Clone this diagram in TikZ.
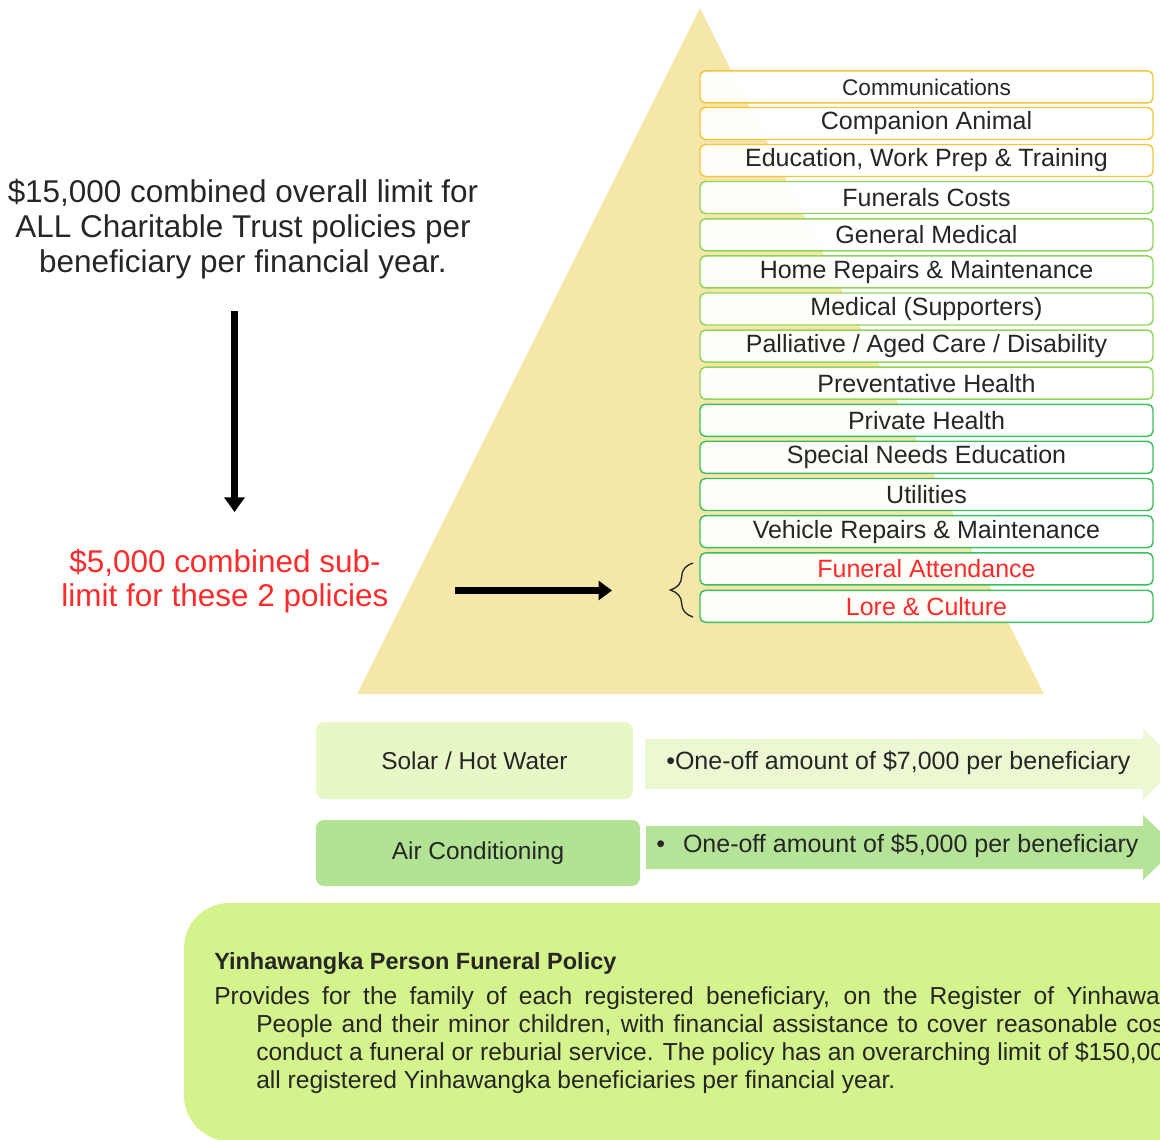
\documentclass[tikz,border=0pt]{standalone}
\usepackage{fontspec}
\setmainfont{Liberation Sans}
\usetikzlibrary{arrows.meta,decorations.pathreplacing}
\definecolor{tri}{HTML}{F5E6A9}
\definecolor{gold}{HTML}{F2C63C}
\definecolor{lgreen}{HTML}{8ED65A}
\definecolor{dgreen}{HTML}{3DBE5C}
\definecolor{txt}{HTML}{262626}
\definecolor{redt}{HTML}{FF2A2A}
\definecolor{solarfill}{HTML}{E8F7C6}
\definecolor{solararrow}{HTML}{EBF8D2}
\definecolor{airfill}{HTML}{B2E293}
\definecolor{airarrow}{HTML}{B5E498}
\definecolor{policy}{HTML}{D4F38C}
\tikzset{
  item/.style={draw=#1, fill=white, fill opacity=0.92, text opacity=1, draw opacity=1,
    rounded corners=4pt, minimum width=339.75pt, minimum height=24pt, inner sep=0pt,
    font=\fontsize{18.75}{20}\selectfont, text=txt, line width=1.1pt},
  lefttext/.style={align=center, text=txt, inner sep=0pt, font=\fontsize{23.6}{26.25}\selectfont},
  redtext/.style={align=center, text=redt, inner sep=0pt, font=\fontsize{23.6}{25.5}\selectfont},
  greenbox/.style={rounded corners=6pt, inner sep=0pt, text=txt, font=\fontsize{18.3}{20}\selectfont},
  bullettext/.style={anchor=west, inner sep=0pt, text=txt, font=\fontsize{18.75}{20}\selectfont},
  bodytext/.style={anchor=base west, inner sep=0pt, text=txt, font=\fontsize{18.45}{21}\selectfont}
}
\begin{document}
\begin{tikzpicture}[x=0.75pt,y=-0.75pt]
\useasboundingbox (0,0) rectangle (1160,1139);
\clip (0,0) rectangle (1160,1139);
% pyramid
\fill[tri] (700,8) -- (1044,694) -- (357,694) -- cycle;
% list boxes
\node[item=gold, font=\fontsize{17}{19}\selectfont] (b1) at (926.5,86.9) {Communications};
\node[item=gold] (b2) at (926.5,123.5) {Companion Animal};
\node[item=gold] (b3) at (926.5,160.5) {Education, Work Prep \& Training};
\node[item=lgreen] (b4) at (926.5,197.5) {Funerals Costs};
\node[item=lgreen] (b5) at (926.5,234.8) {General Medical};
\node[item=lgreen] (b6) at (926.5,271.9) {Home Repairs \& Maintenance};
\node[item=lgreen] (b7) at (926.5,309.0) {Medical (Supporters)};
\node[item=lgreen] (b8) at (926.5,346.1) {Palliative / Aged Care / Disability};
\node[item=lgreen] (b9) at (926.5,383.2) {Preventative Health};
\node[item=dgreen] (b10) at (926.5,420.3) {Private Health};
\node[item=dgreen] (b11) at (926.5,457.4) {Special Needs Education};
\node[item=dgreen] (b12) at (926.5,494.5) {Utilities};
\node[item=dgreen] (b13) at (926.5,531.6) {Vehicle Repairs \& Maintenance};
\node[item=dgreen, text=redt] (b14) at (926.5,568.9) {Funeral Attendance};
\node[item=dgreen, text=redt] (b15) at (926.5,606.3) {Lore \& Culture};
% brace
\coordinate (brbot) at (693,617);
\coordinate (brtop) at (693,563);
\draw[decorate, decoration={brace, amplitude=17pt, aspect=0.5}, line width=1pt, txt] (brbot) -- (brtop);
% left texts
\node[lefttext] (overall) at (243,229.5) {\$15,000 combined overall limit for\\ALL Charitable Trust policies per\\beneficiary per financial year.};
\node[redtext] (sub) at (225,581.5) {\$5,000 combined sub-\\limit for these 2 policies};
% black arrows
\coordinate (vstart) at (234.5,311);
\coordinate (vend) at (234.5,512);
\draw[line width=5.6pt, -{Triangle[length=11pt,width=15pt]}] (vstart) -- (vend);
\coordinate (hstart) at (455,590.5);
\coordinate (hend) at (612,590.5);
\draw[line width=4.6pt, -{Triangle[length=10pt,width=14pt]}] (hstart) -- (hend);
% solar / hot water
\fill[solararrow] (645,739) -- (1143,739) -- (1143,729) -- (1179,764) -- (1143,800) -- (1143,789) -- (645,789) -- cycle;
\node[greenbox, fill=solarfill, minimum width=237.75pt, minimum height=57.75pt] (solar) at (474.5,760.5) {Solar / Hot Water};
\node[bullettext] (solart) at (666,763) {•One-off amount of \$7,000 per beneficiary};
% air conditioning
\fill[airarrow] (646,826) -- (1143,826) -- (1143,815) -- (1177,847.5) -- (1143,880) -- (1143,869) -- (646,869) -- cycle;
\node[greenbox, fill=airfill, minimum width=243pt, minimum height=49.5pt] (air) at (478,853) {Air Conditioning};
\node[bullettext] (airt) at (656,846) {•\hspace{13.5pt}One-off amount of \$5,000 per beneficiary};
% funeral policy panel
\fill[policy, rounded corners=34pt] (184,903) rectangle (1260,1141);
\node[anchor=base west, inner sep=0pt, text=txt, font=\bfseries\fontsize{17.6}{20}\selectfont] (ptitle) at (214,969) {Yinhawangka Person Funeral Policy};
\node[bodytext] (l1) at (214,1004) {\makebox[749.25pt][s]{Provides for the family of each registered beneficiary, on the Register of Yinhawangka}};
\node[bodytext] (l2) at (256,1032) {\makebox[717.75pt][s]{People and their minor children, with financial assistance to cover reasonable costs to}};
\node[bodytext] (l3) at (256,1060) {\makebox[717.75pt][s]{conduct a funeral or reburial service. The policy has an overarching limit of \$150,000 for}};
\node[bodytext] (l4) at (256,1088) {all registered Yinhawangka beneficiaries per financial year.};
\end{tikzpicture}
\end{document}
